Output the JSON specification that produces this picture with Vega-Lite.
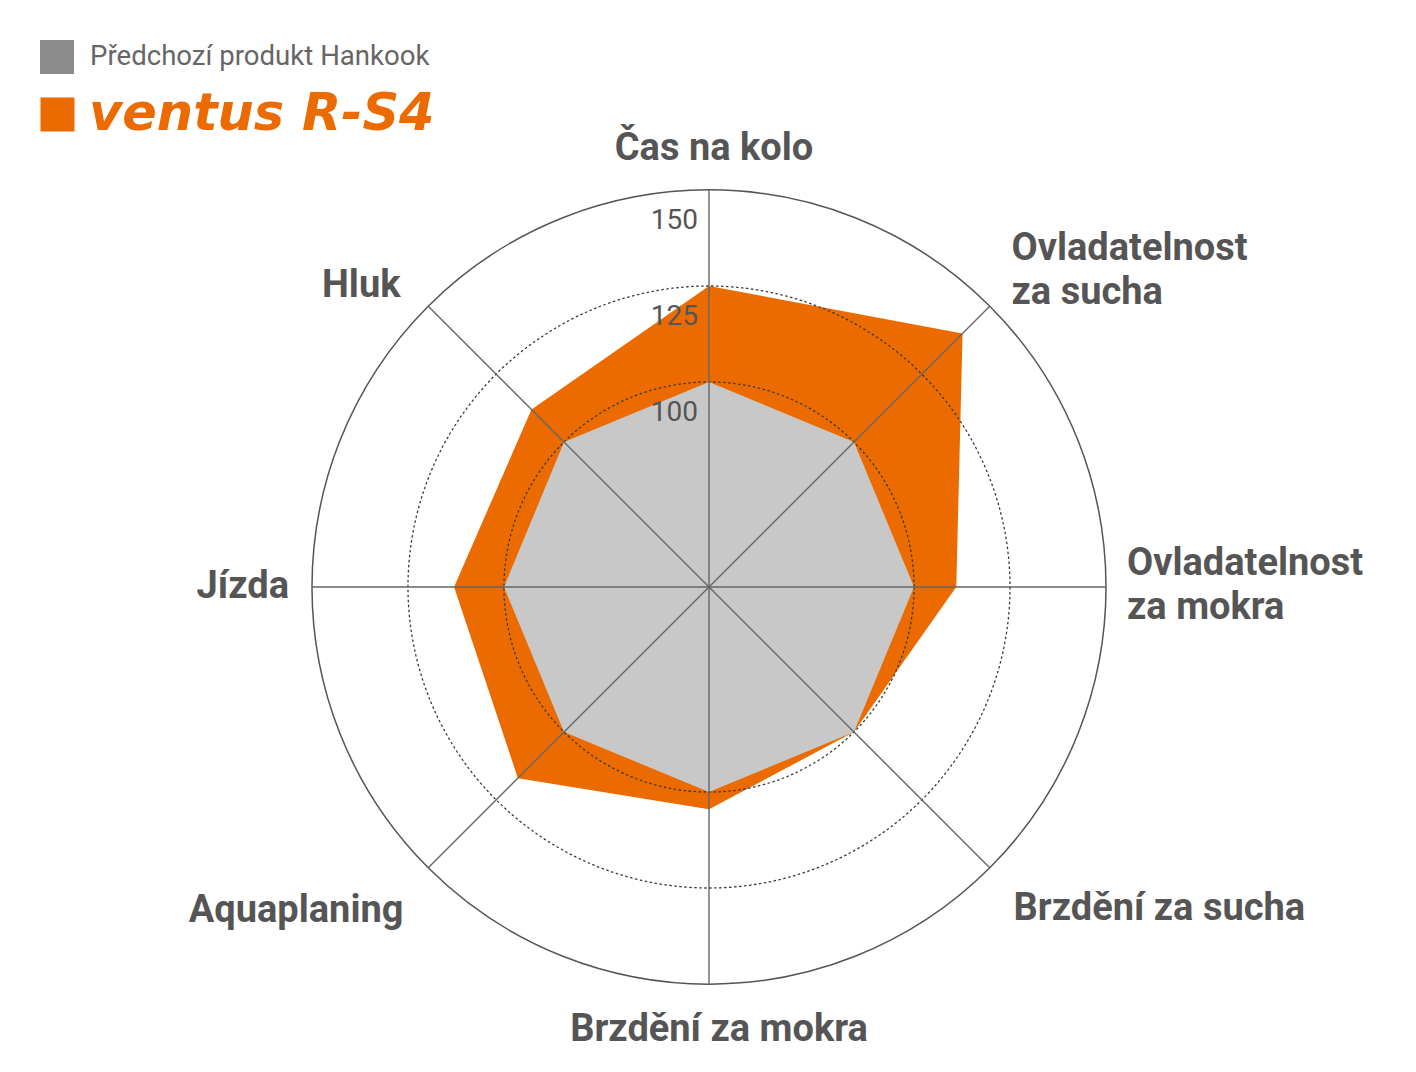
{
  "$schema": "https://vega.github.io/schema/vega-lite/v6.json",
  "width": 794,
  "height": 794,
  "autosize": "none",
  "padding": {"left": 312, "top": 190, "right": 310, "bottom": 88},
  "background": "white",
  "datasets": {
    "scores": [
      {"axis": "Čas na kolo", "idx": 0, "series": "Předchozí produkt Hankook", "value": 100},
      {"axis": "Ovladatelnost za sucha", "idx": 1, "series": "Předchozí produkt Hankook", "value": 100},
      {"axis": "Ovladatelnost za mokra", "idx": 2, "series": "Předchozí produkt Hankook", "value": 100},
      {"axis": "Brzdění za sucha", "idx": 3, "series": "Předchozí produkt Hankook", "value": 100},
      {"axis": "Brzdění za mokra", "idx": 4, "series": "Předchozí produkt Hankook", "value": 100},
      {"axis": "Aquaplaning", "idx": 5, "series": "Předchozí produkt Hankook", "value": 100},
      {"axis": "Jízda", "idx": 6, "series": "Předchozí produkt Hankook", "value": 100},
      {"axis": "Hluk", "idx": 7, "series": "Předchozí produkt Hankook", "value": 100},
      {"axis": "Čas na kolo", "idx": 0, "series": "ventus R-S4", "value": 125},
      {"axis": "Ovladatelnost za sucha", "idx": 1, "series": "ventus R-S4", "value": 140},
      {"axis": "Ovladatelnost za mokra", "idx": 2, "series": "ventus R-S4", "value": 111},
      {"axis": "Brzdění za sucha", "idx": 3, "series": "ventus R-S4", "value": 100},
      {"axis": "Brzdění za mokra", "idx": 4, "series": "ventus R-S4", "value": 104.5},
      {"axis": "Aquaplaning", "idx": 5, "series": "ventus R-S4", "value": 117},
      {"axis": "Jízda", "idx": 6, "series": "ventus R-S4", "value": 113},
      {"axis": "Hluk", "idx": 7, "series": "ventus R-S4", "value": 112}
    ],
    "axes": [
      {"idx": 0, "label": "Čas na kolo"},
      {"idx": 1, "label": "Ovladatelnost\nza sucha"},
      {"idx": 2, "label": "Ovladatelnost\nza mokra"},
      {"idx": 3, "label": "Brzdění za sucha"},
      {"idx": 4, "label": "Brzdění za mokra"},
      {"idx": 5, "label": "Aquaplaning"},
      {"idx": 6, "label": "Jízda"},
      {"idx": 7, "label": "Hluk"}
    ],
    "levels": [{"level": 150}, {"level": 125}, {"level": 100}]
  },
  "layer": [
    {
      "data": {"name": "scores"},
      "transform": [
        {"calculate": "datum.idx * PI / 4", "as": "a"},
        {"calculate": "(datum.value - 46.6) * sin(datum.a)", "as": "px"},
        {"calculate": "(datum.value - 46.6) * cos(datum.a)", "as": "py"}
      ],
      "encoding": {
        "x": {"field": "px", "type": "quantitative", "scale": {"domain": [-103.4, 103.4], "nice": false, "zero": false}, "axis": null},
        "y": {"field": "py", "type": "quantitative", "scale": {"domain": [-103.4, 103.4], "nice": false, "zero": false}, "axis": null},
        "order": {"field": "idx", "type": "quantitative"}
      },
      "layer": [
        {
          "transform": [{"filter": "datum.series === 'ventus R-S4'"}],
          "mark": {"type": "line", "interpolate": "linear-closed", "fill": "#ec6b00", "stroke": "#ec6b00", "strokeWidth": 0}
        },
        {
          "transform": [{"filter": "datum.series === 'Předchozí produkt Hankook'"}],
          "mark": {"type": "line", "interpolate": "linear-closed", "fill": "#c8c8c8", "stroke": "#c8c8c8", "strokeWidth": 0}
        }
      ]
    },
    {
      "data": {"name": "levels"},
      "transform": [
        {"calculate": "datum.level - 46.6", "as": "r"},
        {"calculate": "0", "as": "cx"}
      ],
      "layer": [
        {
          "transform": [{"filter": "datum.level < 150"}],
          "mark": {"type": "point", "shape": "circle", "filled": false, "stroke": "#3a3a3a", "strokeWidth": 1.3, "strokeDash": [2.5, 2.5], "opacity": 1}
        },
        {
          "transform": [{"filter": "datum.level == 150"}],
          "mark": {"type": "point", "shape": "circle", "filled": false, "stroke": "#555555", "strokeWidth": 1.5, "opacity": 1}
        }
      ],
      "encoding": {
        "x": {"field": "cx", "type": "quantitative", "axis": null},
        "y": {"field": "cx", "type": "quantitative", "axis": null},
        "size": {"field": "r", "type": "quantitative", "scale": {"type": "pow", "exponent": 2, "domain": [0, 103.4], "range": [0, 630436], "zero": true}, "legend": null}
      }
    },
    {
      "data": {"name": "axes"},
      "transform": [
        {"calculate": "datum.idx * PI / 4", "as": "a"},
        {"calculate": "0", "as": "cx"},
        {"calculate": "103.4 * sin(datum.a)", "as": "sx"},
        {"calculate": "103.4 * cos(datum.a)", "as": "sy"}
      ],
      "mark": {"type": "rule", "color": "#666666", "strokeWidth": 1.4},
      "encoding": {
        "x": {"field": "cx", "type": "quantitative", "axis": null},
        "y": {"field": "cx", "type": "quantitative", "axis": null},
        "x2": {"field": "sx"},
        "y2": {"field": "sy"}
      }
    },
    {
      "data": {"name": "levels"},
      "transform": [
        {"calculate": "datum.level - 46.6", "as": "ty"},
        {"calculate": "0", "as": "cx"}
      ],
      "mark": {"type": "text", "align": "right", "baseline": "middle", "dx": -11, "dy": 31, "font": "Roboto", "fontWeight": "normal", "fontSize": 28, "color": "#555555"},
      "encoding": {
        "x": {"field": "cx", "type": "quantitative", "axis": null},
        "y": {"field": "ty", "type": "quantitative", "axis": null},
        "text": {"field": "level", "type": "quantitative"}
      }
    },
    {
      "data": {"name": "axes"},
      "transform": [
        {"calculate": "datum.idx * PI / 4", "as": "a"},
        {"calculate": "110.7 * sin(datum.a)", "as": "lx"},
        {"calculate": "115.9 * cos(datum.a)", "as": "ly"}
      ],
      "encoding": {
        "x": {"field": "lx", "type": "quantitative", "axis": null},
        "y": {"field": "ly", "type": "quantitative", "axis": null},
        "text": {"field": "label", "type": "nominal"}
      },
      "layer": [
        {"transform": [{"filter": "datum.idx == 0"}], "mark": {"type": "text", "align": "center", "dx": 5, "dy": 7}},
        {"transform": [{"filter": "datum.idx == 1"}], "mark": {"type": "text", "align": "left", "dx": 2, "dy": -23}},
        {"transform": [{"filter": "datum.idx == 2"}], "mark": {"type": "text", "align": "left", "dx": -7, "dy": -23}},
        {"transform": [{"filter": "datum.idx == 3"}], "mark": {"type": "text", "align": "left", "dx": 4, "dy": 7}},
        {"transform": [{"filter": "datum.idx == 4"}], "mark": {"type": "text", "align": "center", "dx": 10, "dy": -2}},
        {"transform": [{"filter": "datum.idx == 5"}], "mark": {"type": "text", "align": "right", "dx": -5, "dy": 9}},
        {"transform": [{"filter": "datum.idx == 6"}], "mark": {"type": "text", "align": "right", "dx": 5, "dy": 0}},
        {"transform": [{"filter": "datum.idx == 7"}], "mark": {"type": "text", "align": "right", "dx": -8, "dy": 14}}
      ]
    },
    {
      "data": {"name": "scores"},
      "transform": [
        {"filter": "datum.idx == 0"},
        {"calculate": "0", "as": "cx"}
      ],
      "encoding": {
        "x": {"field": "cx", "type": "quantitative", "axis": null},
        "y": {"field": "cx", "type": "quantitative", "axis": null}
      },
      "layer": [
        {
          "transform": [{"filter": "datum.series === 'Předchozí produkt Hankook'"}],
          "mark": {"type": "point", "shape": "square", "filled": true, "opacity": 0},
          "encoding": {
            "color": {
              "field": "series", "type": "nominal",
              "scale": {"range": ["#8c8c8c"]},
              "legend": {"orient": "none", "legendX": -272, "legendY": -150, "title": null, "padding": 0, "symbolType": "square", "symbolSize": 1156, "symbolStrokeWidth": 0, "symbolOpacity": 1, "labelFont": "Roboto", "labelFontSize": 27.6, "labelColor": "#666666", "labelOffset": 16, "labelLimit": 600}
            }
          }
        },
        {
          "transform": [{"filter": "datum.series === 'ventus R-S4'"}],
          "mark": {"type": "point", "shape": "square", "filled": true, "opacity": 0},
          "encoding": {
            "fill": {
              "field": "series", "type": "nominal",
              "scale": {"range": ["#ec6b00"]},
              "legend": {"orient": "none", "legendX": -280, "legendY": -101, "title": null, "padding": 0, "symbolType": "square", "symbolSize": 1156, "symbolStrokeWidth": 0, "symbolOpacity": 1, "labelFont": "DejaVu Sans", "labelFontSize": 51, "labelFontWeight": "bold", "labelFontStyle": "italic", "labelColor": "#ec6b00", "labelOffset": 6, "labelLimit": 600}
            }
          }
        }
      ]
    }
  ],
  "config": {
    "view": {"stroke": null},
    "text": {"baseline": "middle", "font": "Roboto", "fontWeight": "bold", "fontSize": 38, "color": "#555555", "lineBreak": "\n", "lineHeight": 44}
  }
}
